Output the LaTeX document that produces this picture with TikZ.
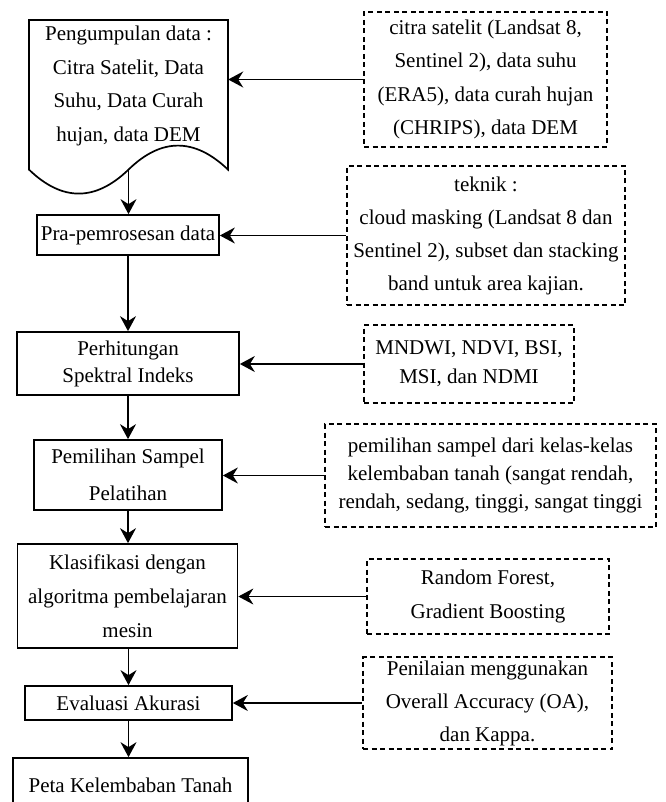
\documentclass[tikz,border=0pt]{standalone}
\usepackage{fontspec}
\setmainfont{Liberation Serif}
\usetikzlibrary{arrows.meta}
\tikzset{
  txt/.style={align=center, inner sep=0pt, font=\fontsize{21}{33.5}\selectfont},
  flow/.style={txt, draw, line width=1.7pt, rectangle},
  note/.style={txt, draw, line width=1.6pt, rectangle, dash pattern=on 5pt off 3.5pt},
  arr/.style={line width=1.7pt, -{Stealth[length=15pt,width=16pt,inset=5pt]}},
}
\begin{document}
\begin{tikzpicture}[x=1pt,y=-1pt]
\clip (0,0) rectangle (665,802);
\fill[white] (0,0) rectangle (665,802);
% document shape
\draw[line width=1.7pt] (29,20) -- (228,20) -- (228,169.6)
  .. controls (194.5,137.6) and (161.33,137.6) .. (128.5,169.6)
  .. controls (95.33,201.6) and (62.17,201.6) .. (29,169.6) -- cycle;
\node[txt, minimum width=199pt] (doc) at (128.5,86) {Pengumpulan data :\\Citra Satelit, Data\\Suhu, Data Curah\\hujan, data DEM};
\coordinate (docb) at (128.5,169.6);
% flow boxes
\node[flow, minimum width=182pt, minimum height=40pt] (pra) at (128,235) {Pra-pemrosesan data};
\node[flow, minimum width=222pt, minimum height=63pt, font=\fontsize{21}{27}\selectfont] (hit) at (128,363.5) {Perhitungan\\Spektral Indeks};
\node[flow, minimum width=188pt, minimum height=70pt, font=\fontsize{21}{37}\selectfont] (pil) at (128,475) {Pemilihan Sampel\\Pelatihan};
\node[flow, minimum width=220pt, minimum height=104pt, font=\fontsize{21}{34}\selectfont] (kla) at (127.5,596) {Klasifikasi dengan\\algoritma pembelajaran\\mesin};
\node[flow, minimum width=207pt, minimum height=34pt] (eva) at (128.5,703) {Evaluasi Akurasi};
\node[flow, minimum width=235pt, minimum height=54pt] (peta) at (130.5,785) {Peta Kelembaban Tanah};
% notes
\node[note, minimum width=243pt, minimum height=135pt] (d1) at (485.5,79.5) {citra satelit (Landsat 8,\\Sentinel 2), data suhu\\(ERA5), data curah hujan\\(CHRIPS), data DEM};
\node[note, minimum width=278pt, minimum height=139pt, font=\fontsize{21}{33}\selectfont] (d2) at (486,235.5) {teknik :\\cloud masking (Landsat 8 dan\\Sentinel 2), subset dan stacking\\band untuk area kajian.};
\node[note, minimum width=210pt, minimum height=78pt, font=\fontsize{21}{29}\selectfont] (d3) at (469,364) {MNDWI, NDVI, BSI,\\MSI, dan NDMI};
\node[note, minimum width=331pt, minimum height=103pt, font=\fontsize{21}{28}\selectfont] (d4) at (490.5,475.5) {pemilihan sampel dari kelas-kelas\\kelembaban tanah (sangat rendah,\\rendah, sedang, tinggi, sangat tinggi};
\node[note, minimum width=242pt, minimum height=75pt, font=\fontsize{21}{34}\selectfont] (d5) at (488,596.5) {Random Forest,\\Gradient Boosting};
\node[note, minimum width=249pt, minimum height=92pt, font=\fontsize{21}{33}\selectfont] (d6) at (487.5,703) {Penilaian menggunakan\\Overall Accuracy (OA),\\dan Kappa.};
% vertical arrows
\draw[arr] (docb) -- (pra.north -| docb);
\draw[arr] (pra.south) -- (hit.north);
\draw[arr] (hit.south) -- (pil.north);
\draw[arr] (pil.south) -- (pil.south |- kla.north);
\draw[arr] (kla.south -| eva.north) -- (eva.north);
\draw[arr] (eva.south) -- (eva.south |- peta.north);
% horizontal arrows
\draw[arr] (d1.west) -- (d1.west -| doc.east);
\draw[arr] (d2.west) -- (d2.west -| pra.east);
\draw[arr] (d3.west) -- (d3.west -| hit.east);
\draw[arr] (d4.west) -- (d4.west -| pil.east);
\draw[arr] (d5.west) -- (d5.west -| kla.east);
\draw[arr] (d6.west) -- (d6.west -| eva.east);
\end{tikzpicture}
\end{document}
